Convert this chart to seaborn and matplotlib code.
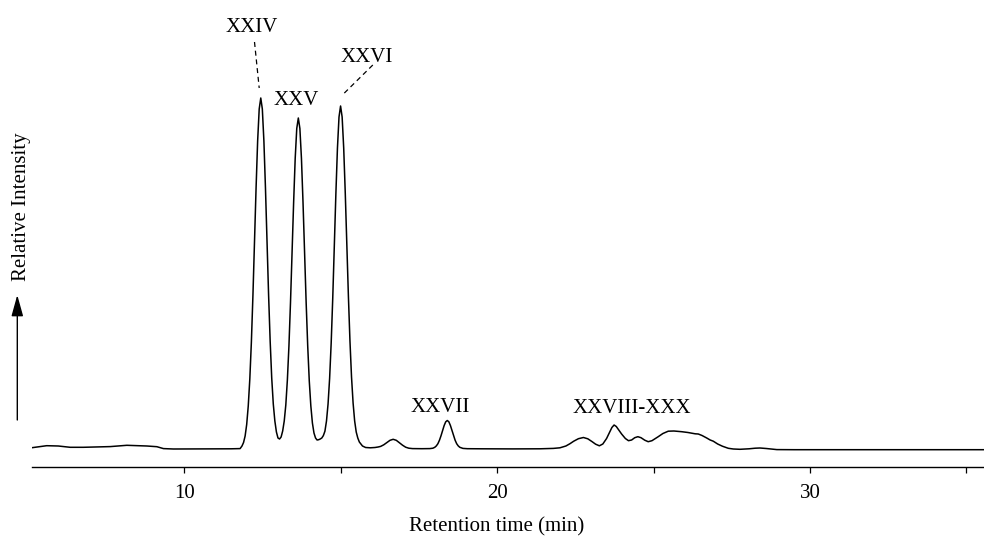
import numpy as np
import pandas as pd
import matplotlib
matplotlib.use("Agg")
import matplotlib.pyplot as plt
import seaborn as sns

# === Chromatogram trace (retention time in min, signal above baseline) ===
rt = [
    5.14, 5.40, 5.61, 5.98, 6.36, 6.78, 7.20, 7.64, 8.17, 8.50, 8.81, 9.13, 9.34, 9.66,
    10.50, 11.50, 11.79,
    # XXIV
    11.85, 11.90, 11.95, 12.00, 12.05, 12.10, 12.15, 12.20, 12.25, 12.30, 12.35, 12.40,
    12.45, 12.50, 12.55, 12.60, 12.65, 12.70, 12.75, 12.80, 12.85, 12.90, 12.95, 13.00,
    # XXV
    13.05, 13.10, 13.15, 13.20, 13.25, 13.30, 13.35, 13.40, 13.45, 13.50, 13.55, 13.60,
    13.65, 13.70, 13.75, 13.80, 13.85, 13.90, 13.95, 14.00, 14.05, 14.10, 14.15, 14.20,
    # XXVI
    14.25, 14.30, 14.35, 14.40, 14.45, 14.50, 14.55, 14.60, 14.65, 14.70, 14.75, 14.80,
    14.85, 14.90, 14.95, 15.00, 15.05, 15.10, 15.15, 15.20, 15.25, 15.30, 15.35, 15.40,
    15.45, 15.50, 15.55, 15.60, 15.70, 15.80, 15.95, 16.10,
    # small peak
    16.20, 16.28, 16.38, 16.48, 16.58, 16.68, 16.78, 16.88, 16.98, 17.08, 17.18, 17.30,
    17.60, 17.85,
    # XXVII
    17.95, 18.01, 18.06, 18.11, 18.16, 18.21, 18.26, 18.31, 18.36, 18.41, 18.46, 18.51,
    18.56, 18.61, 18.66, 18.71, 18.76, 18.81, 18.91, 19.05, 19.50, 20.50,
    # XXVIII-XXX
    21.37, 21.80, 22.01, 22.20, 22.33, 22.45, 22.60, 22.76, 22.90, 23.03, 23.15, 23.27,
    23.38, 23.50, 23.60, 23.67, 23.74, 23.81, 23.90, 23.98, 24.10, 24.20, 24.30, 24.40,
    24.50, 24.60, 24.72, 24.83, 24.95, 25.05, 25.15, 25.30, 25.47, 25.65, 25.90, 26.10,
    26.33, 26.43, 26.55, 26.70, 26.81, 26.91, 27.05, 27.20, 27.39, 27.55, 27.76, 28.05,
    28.25, 28.40, 28.60, 28.94, 29.50, 31.00, 33.00, 35.56,
]
signal = [
    1.3, 2.4, 3.3, 3.0, 1.7, 1.7, 2.0, 2.4, 3.7, 3.3, 3.0, 2.3, 0.4, 0.0,
    0.1, 0.2, 0.4,
    3.0, 6.5, 13.0, 24.5, 43.0, 70.0, 107.0, 154.0, 207.0, 261.0, 308.0, 340.0,
    351.0, 340.0, 308.0, 261.0, 207.0, 154.0, 108.0, 71.0, 45.0, 28.0, 17.0, 11.0,
    10.0, 12.0, 18.0, 28.0, 44.0, 69.0, 103.0, 146.5, 196.0, 246.5, 290.5, 320.5,
    331.0, 320.5, 290.5, 246.5, 196.0, 146.5, 103.0, 68.0, 43.0, 26.0, 16.0, 11.0,
    9.0, 9.3, 10.0, 11.0, 13.4, 17.8, 28.0, 45.0, 70.6, 106.0, 151.0, 202.7,
    255.2, 300.8, 332.0, 343.0, 332.0, 301.0, 256.0, 204.0, 153.0, 108.0, 72.0, 46.0,
    28.0, 17.0, 11.0, 7.0, 3.0, 1.5, 1.2, 1.5,
    2.0, 2.6, 4.2, 6.5, 8.7, 9.7, 8.7, 6.2, 3.8, 1.8, 0.8, 0.4,
    0.3, 0.4,
    0.8, 1.7, 3.1, 5.3, 8.8, 13.3, 18.5, 23.5, 27.2, 28.5, 27.2, 23.5,
    18.5, 13.3, 8.8, 5.3, 3.1, 1.7, 0.6, 0.3, 0.2, 0.1,
    0.2, 0.6, 1.2, 3.0, 5.3, 7.8, 10.3, 11.5, 10.2, 7.5, 4.8, 3.2,
    5.0, 10.5, 17.0, 21.5, 24.0, 22.5, 18.5, 15.0, 10.5, 8.3, 9.0, 11.3,
    12.3, 11.3, 8.8, 7.3, 8.3, 10.3, 12.3, 15.5, 17.8, 18.0, 17.3, 16.5,
    15.2, 15.0, 13.5, 11.0, 9.0, 7.8, 5.0, 2.8, 0.7, 0.0, -0.3, 0.2,
    0.8, 1.0, 0.5, -0.6, -0.7, -0.7, -0.7, -0.7,
]

# === Peak labels ===
peak_labels = ["XXIV", "XXV", "XXVI", "XXVII", "XXVIII-XXX"]
peak_rt = [12.45, 13.65, 15.00, 18.41, 23.74]

x_ticks = [10, 20, 30]
x_minor_ticks = [15, 25, 35]

df = pd.DataFrame({"rt": rt, "signal": signal})

# === Layout ===
label_pos = [(12.17, 417), (13.58, 344), (15.83, 387), (18.20, 37), (24.30, 36)]
leaders = {"XXIV": [(12.25, 407), (12.40, 361)], "XXVI": [(16.03, 384), (15.09, 355)]}
x_min, x_max = 5.14, 35.56

sns.set_theme(style="white")
plt.rcParams["font.family"] = ["Liberation Serif", "DejaVu Serif"]

fig = plt.figure(figsize=(9.84, 5.36), dpi=100)
ax = fig.add_axes([32 / 984, 69 / 536, 952 / 984, 467 / 536])

sns.lineplot(data=df, x="rt", y="signal", color="black", linewidth=1.1,
             estimator=None, sort=False, ax=ax)

for lab, (tx, ty) in zip(peak_labels, label_pos):
    ax.text(tx, ty, lab, ha="center", va="baseline", fontsize=15, color="black")

for pts in leaders.values():
    (x0, y0), (x1, y1) = pts
    ax.plot([x0, x1], [y0, y1], color="black", linewidth=0.9, linestyle=(0, (4, 3)))

ax.set_xlim(x_min, x_max)
ax.set_ylim(-18, 449)

ax.set_xticks(x_ticks)
ax.set_xticklabels([str(t) for t in x_ticks])
ax.set_xticks(x_minor_ticks, minor=True)
ax.set_yticks([])
ax.tick_params(axis="x", which="both", direction="out", length=4.5, width=0.9,
               color="black", bottom=True, pad=8, labelsize=15, labelcolor="black")

for side in ["top", "right", "left"]:
    ax.spines[side].set_visible(False)
ax.spines["bottom"].set_color("black")
ax.spines["bottom"].set_linewidth(1.0)

# label sits under the 20 min tick in the original
ax.set_xlabel("Retention time (min)", fontsize=15, color="black", labelpad=10,
              x=(20 - x_min) / (x_max - x_min))
ax.set_ylabel("")

# === Y-axis arrow + label ===
ax.annotate("", xy=(17.3, 241), xycoords="figure pixels",
            xytext=(17.3, 116), textcoords="figure pixels",
            arrowprops=dict(arrowstyle="-|>,head_length=1.3,head_width=0.36",
                            color="black", lw=1.0, shrinkA=0, shrinkB=0,
                            mutation_scale=10),
            annotation_clip=False)
fig.text(22 / 984, 1 - 207 / 536, "Relative Intensity", rotation=90,
         ha="center", va="center", fontsize=15, color="black")

fig.savefig("out.png", dpi=100)
